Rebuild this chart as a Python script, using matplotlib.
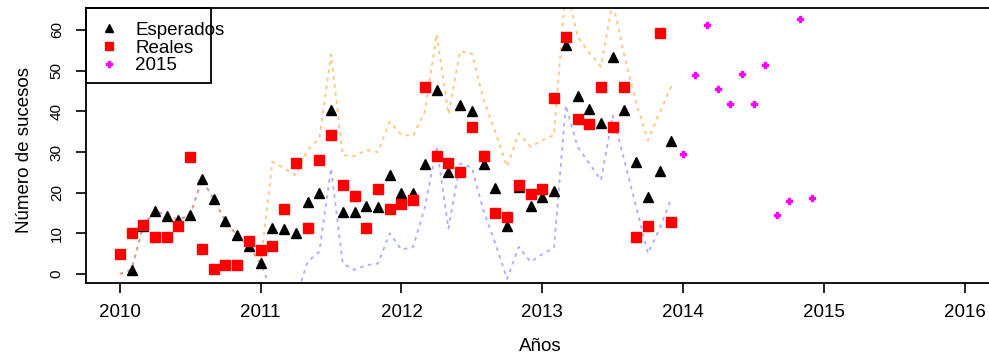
import numpy as np
import matplotlib
matplotlib.use("Agg")
import matplotlib.pyplot as plt
from matplotlib.patches import Rectangle

plt.rcParams['font.family'] = ['Liberation Sans', 'DejaVu Sans']

# monthly values, Jan 2010 .. Dec 2013
esperados = [np.nan, 1.1, 11.9, 15.6, 14.3, 13.4, 14.5, 23.3, 18.4, 13.0, 9.5, 7.0,
             2.6, 11.4, 11.1, 10.1, 17.7, 20.0, 40.3, 15.3, 15.3, 16.7, 16.6, 24.3,
             20.0, 20.0, 27.0, 45.3, 25.0, 41.5, 40.1, 27.0, 21.1, 11.9, 21.4, 16.8,
             19.0, 20.5, 56.3, 43.8, 40.5, 37.2, 53.4, 40.3, 27.5, 19.0, 25.4, 32.7]
reales = [5.0, 10.2, 12.0, 9.2, 9.2, 11.8, 28.8, 6.1, 1.3, 2.2, 2.2, 8.2,
          5.9, 7.0, 16.0, 27.3, 11.2, 28.0, 34.2, 21.9, 19.2, 11.2, 20.9, 16.0,
          17.2, 18.2, 46.0, 29.0, 27.3, 25.1, 36.1, 29.0, 15.1, 14.0, 22.0, 19.8,
          20.9, 43.3, 58.2, 38.0, 36.8, 45.9, 36.2, 45.9, 9.2, 11.8, 59.3, 12.9]
superior = [0.0, 1.1, 11.9, 15.6, 14.3, 13.4, 14.5, 23.3, 18.4, 13.0, 9.5, 7.0,
            2.6, 27.6, 26.0, 24.3, 30.5, 33.3, 54.0, 29.2, 29.0, 30.5, 30.0, 37.4,
            34.2, 34.0, 40.0, 59.0, 39.3, 54.8, 54.2, 42.8, 35.0, 26.4, 34.6, 31.3,
            32.9, 34.2, 71.0, 58.5, 54.4, 51.0, 67.0, 53.6, 42.0, 32.9, 39.7, 46.2]
inferior = [0.0, 1.1, 11.9, 15.6, 14.3, 13.4, 14.5, 23.3, 18.4, 13.0, 9.5, 7.0,
            2.6, -4.5, -7.0, -6.0, 3.0, 5.5, 26.0, 2.6, 1.0, 2.2, 2.6, 10.0,
            6.0, 6.7, 16.5, 31.3, 11.2, 27.2, 26.2, 15.5, 7.5, -1.2, 6.7, 3.0,
            4.9, 6.5, 41.5, 31.3, 27.2, 23.1, 39.0, 27.8, 16.5, 5.1, 11.2, 18.6]
# predicted 2015, drawn on the 2014 months
pred_2015 = [29.5, 48.9, 61.3, 45.5, 41.8, 49.1, 41.9, 51.5, 14.4, 18.0, 62.6, 18.7]

t = 2010 + np.arange(len(reales)) / 12
t15 = 2014 + np.arange(len(pred_2015)) / 12

fig = plt.figure(figsize=(9.89, 3.55), dpi=100)
ax = fig.add_axes([86 / 989, 1 - 283 / 355, (998.6 - 86) / 989, (283 - 8) / 355])

ax.plot(t, inferior, color='blue', alpha=0.33, lw=1.3, ls=(0, (2, 2.5)))
ax.plot(t, superior, color='darkorange', alpha=0.5, lw=1.3, ls=(0, (2, 2.5)))
ax.plot(t, esperados, ls='none', marker='^', ms=7, color='black', label='Esperados')
ax.plot(t, reales, ls='none', marker='s', ms=7.6, color='red', label='Reales')
ax.plot(t15, pred_2015, ls='none', marker='P', ms=5, color='magenta', label='2015')

ax.set_xlim(2009.76, 2016.24)
ax.set_ylim(-2.2, 65.4)
ax.set_xticks(range(2010, 2017))
ax.set_yticks(range(0, 61, 10))
ax.tick_params(axis='x', length=7, width=1.2, labelsize=13.5, pad=8)
ax.tick_params(axis='y', length=7, width=1.2, labelsize=11, pad=9, labelrotation=90)
for lab in ax.get_yticklabels():
    lab.set_va('center')
for s in ax.spines.values():
    s.set_linewidth(1.3)

fig.text(25 / 989, 1 - 150 / 355, 'Número de sucesos', rotation=90,
         ha='center', va='center', fontsize=13.5)
fig.text(540 / 989, 1 - 351 / 355, 'Años', ha='center', va='baseline', fontsize=13.5)

# legend text runs past its box, as in the original
leg = ax.legend(loc='upper left', borderaxespad=0, frameon=False, fontsize=13.5,
                labelspacing=0.04, handlelength=1.0, handletextpad=0.9,
                borderpad=0.72, markerscale=0.8)
box = Rectangle((86 / 989, 1 - 83 / 355), 125 / 989, 75 / 355, transform=fig.transFigure,
                fill=False, edgecolor='black', linewidth=1.3, zorder=5)
fig.add_artist(box)

fig.savefig('out.png', dpi=100)
